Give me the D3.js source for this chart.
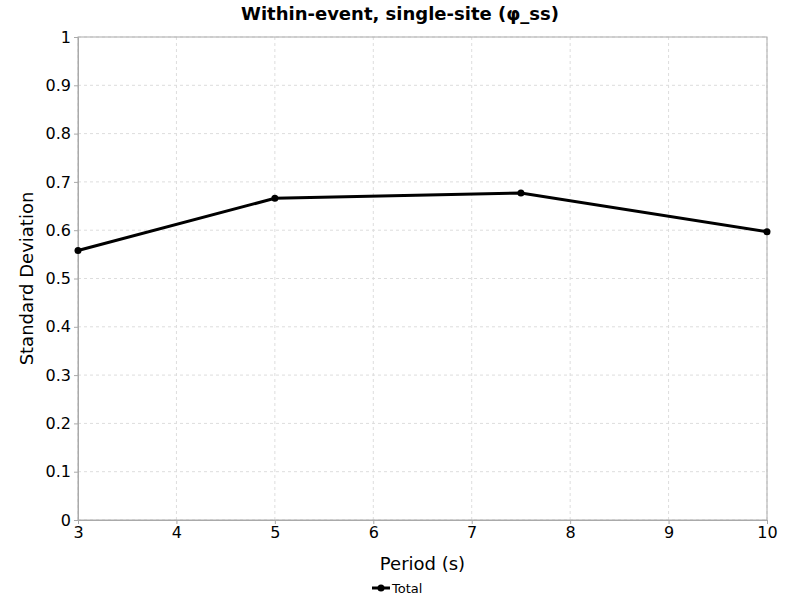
<!DOCTYPE html>
<html>
<body style="margin:0">
<script src="https://d3js.org/d3.v7.min.js"></script>
<script>
const periods = [3, 5, 7.5, 10];
const totalValues = [0.558, 0.666, 0.677, 0.597];
const xTicks = [3, 4, 5, 6, 7, 8, 9, 10];
const yTicks = [0, 0.1, 0.2, 0.3, 0.4, 0.5, 0.6, 0.7, 0.8, 0.9, 1];

const width = 800, height = 600;
const m = {left: 78, right: 33, top: 37, bottom: 80};

const svg = d3.select('body').append('svg')
  .attr('width', width).attr('height', height)
  .style('font-family', 'DejaVu Sans');

const x = d3.scaleLinear().domain([3, 10]).range([m.left, width - m.right]);
const y = d3.scaleLinear().domain([0, 1]).range([height - m.bottom, m.top]);

// grid
svg.append('g').selectAll('line').data(xTicks).join('line')
  .attr('x1', d => x(d)).attr('x2', d => x(d))
  .attr('y1', m.top).attr('y2', height - m.bottom)
  .attr('stroke', '#ddd').attr('stroke-dasharray', '3,3');
svg.append('g').selectAll('line').data(yTicks).join('line')
  .attr('x1', m.left).attr('x2', width - m.right)
  .attr('y1', d => y(d)).attr('y2', d => y(d))
  .attr('stroke', '#ddd').attr('stroke-dasharray', '3,3');

svg.append('rect')
  .attr('x', m.left).attr('y', m.top)
  .attr('width', width - m.left - m.right).attr('height', height - m.top - m.bottom)
  .attr('fill', 'none').attr('stroke', '#aaa');

const xAxis = svg.append('g')
  .attr('transform', `translate(0,${height - m.bottom})`)
  .call(d3.axisBottom(x).tickValues(xTicks).tickFormat(d3.format('d')).tickSize(4));
const yAxis = svg.append('g')
  .attr('transform', `translate(${m.left},0)`)
  .call(d3.axisLeft(y).tickValues(yTicks).tickFormat(d => d === 0 || d === 1 ? d : d.toFixed(1)).tickSize(4));
[xAxis, yAxis].forEach(a => {
  a.selectAll('text').attr('font-size', 16).attr('fill', '#000').style('font-family', 'DejaVu Sans');
  a.select('.domain').attr('stroke', '#aaa');
  a.selectAll('.tick line').attr('stroke', '#aaa');
});

const line = d3.line().x((d, i) => x(periods[i])).y(d => y(d));
svg.append('path').datum(totalValues)
  .attr('d', line).attr('fill', 'none').attr('stroke', '#000').attr('stroke-width', 3);
svg.append('g').selectAll('circle').data(totalValues).join('circle')
  .attr('cx', (d, i) => x(periods[i])).attr('cy', d => y(d)).attr('r', 3.5).attr('fill', '#000');

svg.append('text').attr('x', width / 2).attr('y', 20)
  .attr('text-anchor', 'middle').attr('font-size', 18).attr('font-weight', 'bold')
  .text('Within-event, single-site (φ_ss)');
svg.append('text').attr('x', (m.left + width - m.right) / 2).attr('y', 570)
  .attr('text-anchor', 'middle').attr('font-size', 18).text('Period (s)');
svg.append('text').attr('transform', `translate(33,${(m.top + height - m.bottom) / 2}) rotate(-90)`)
  .attr('text-anchor', 'middle').attr('font-size', 18).text('Standard Deviation');

// legend
svg.append('line').attr('x1', 372).attr('x2', 390).attr('y1', 588).attr('y2', 588)
  .attr('stroke', '#000').attr('stroke-width', 3);
svg.append('circle').attr('cx', 381).attr('cy', 588).attr('r', 3.5).attr('fill', '#000');
svg.append('text').attr('x', 392).attr('y', 593).attr('font-size', 13).text('Total');
</script>
</body>
</html>
